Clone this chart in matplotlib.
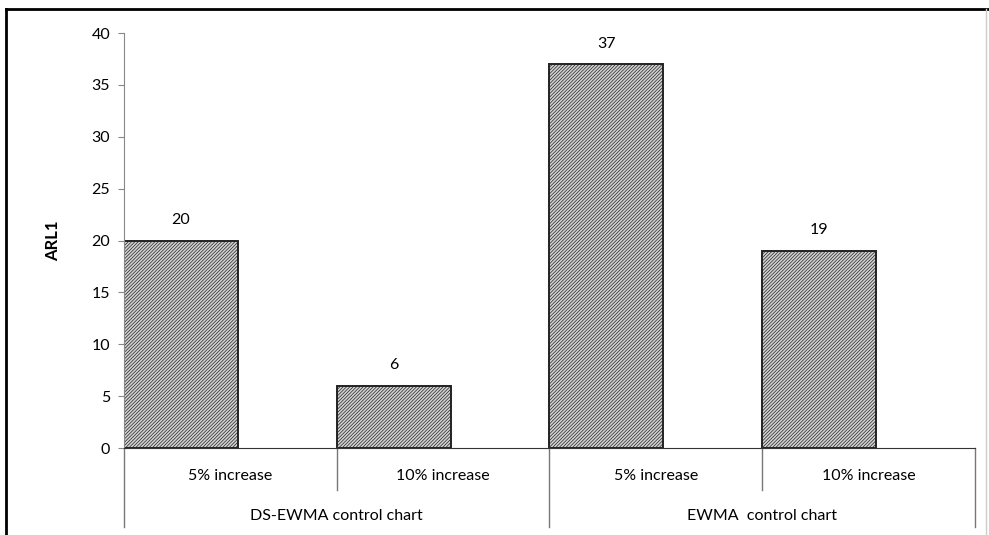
import matplotlib.pyplot as plt
from matplotlib.lines import Line2D
import numpy as np

plt.rcParams['font.family'] = ['Lato', 'DejaVu Sans']
plt.rcParams['hatch.color'] = '#8c8c8c'
plt.rcParams['hatch.linewidth'] = 0.5

categories = ['5% increase', '10% increase', '5% increase', '10% increase']
groups = ['DS-EWMA control chart', 'EWMA  control chart']
arl1 = [20, 6, 37, 19]

fig = plt.figure(figsize=(9.89, 5.35), dpi=100)
ax = fig.add_axes([0.1254, 0.1626, 0.8604, 0.7757])

x = np.arange(len(categories))
bars = ax.bar(x, arl1, width=0.535, align='edge', color='#d2d2d2',
              edgecolor='#222222', linewidth=1.4, hatch='//////////')
for b, v in zip(bars, arl1):
    ax.text(b.get_x() + b.get_width() / 2, v + 1.3, str(v),
            ha='center', va='bottom', fontsize=11.5)

ax.set_xlim(0, len(categories))
ax.set_ylim(0, 40)
ax.set_yticks(range(0, 41, 5))
ax.tick_params(axis='y', labelsize=11.5, length=4, color='#888888', pad=6)
ax.set_xticks([])
for s in ['top', 'right']:
    ax.spines[s].set_visible(False)
ax.spines['left'].set_color('#888888')
ax.spines['bottom'].set_color('#333333')
ax.set_ylabel('ARL1', fontsize=12, fontweight='bold', labelpad=22)

# category labels and group dividers below the axis
tr = ax.get_xaxis_transform()
for i, c in enumerate(categories):
    ax.text(i + 0.5, -0.068, c, transform=tr, ha='center', va='center', fontsize=11.5)
for i in range(len(categories) + 1):
    low = -0.19 if i % 2 == 0 else -0.1
    ax.add_line(Line2D([i, i], [0, low], transform=tr, color='#777777',
                       linewidth=1, clip_on=False))
for g, name in enumerate(groups):
    ax.text(2 * g + 1, -0.165, name, transform=tr, ha='center', va='center', fontsize=11.5)

# outer frame
fig.add_artist(Line2D([6 / 989, 1.0], [1 - 9 / 535, 1 - 9 / 535], transform=fig.transFigure,
                      color='black', linewidth=2))
fig.add_artist(Line2D([6 / 989, 6 / 989], [0, 1 - 9 / 535], transform=fig.transFigure,
                      color='black', linewidth=2))
fig.add_artist(Line2D([986 / 989, 986 / 989], [0, 1 - 9 / 535], transform=fig.transFigure,
                      color='#cccccc', linewidth=1))

fig.savefig('out.png', dpi=100)
